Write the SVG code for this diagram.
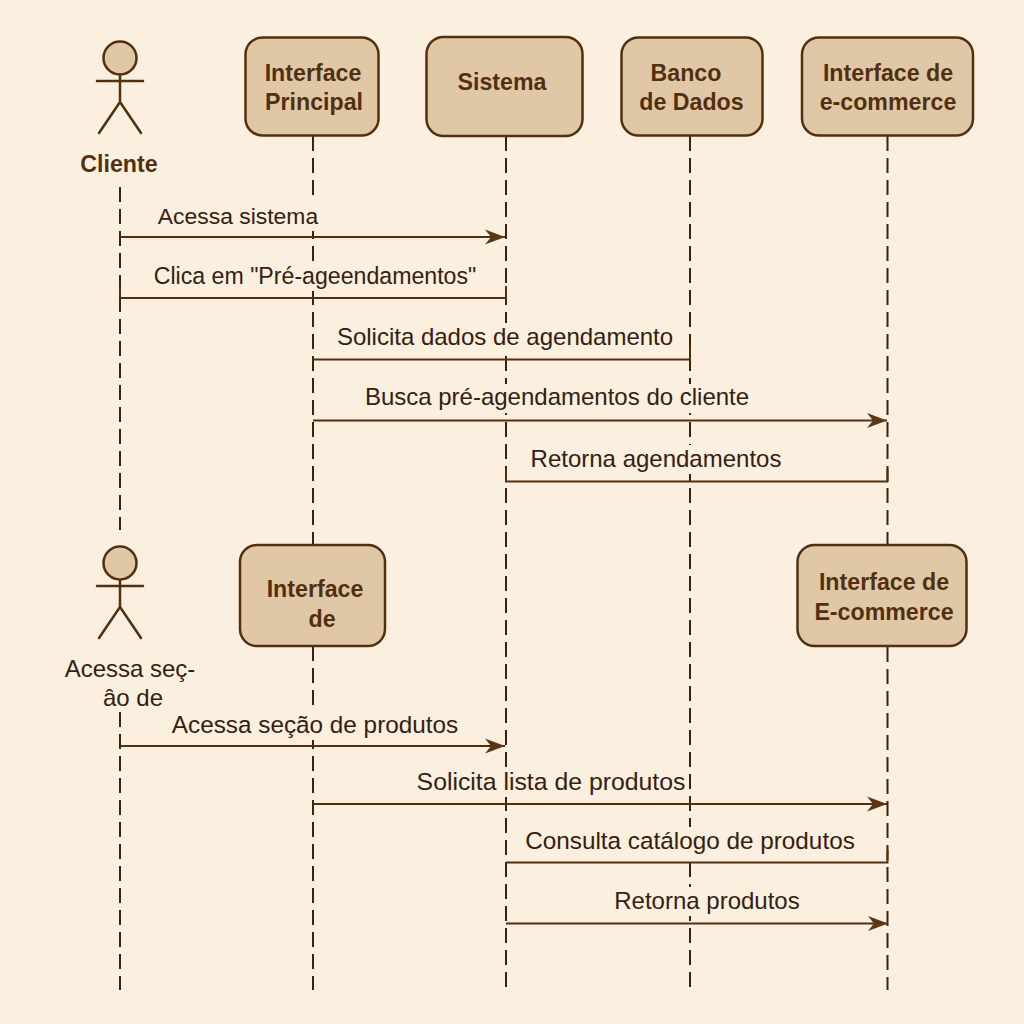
<svg xmlns="http://www.w3.org/2000/svg" width="1024" height="1024" viewBox="0 0 1024 1024">
<style>
.box{fill:#e0c8a6;stroke:#52300f;stroke-width:2.5}
.fig{fill:none;stroke:#52300f;stroke-width:2.5;stroke-linecap:round}
.head{fill:#e0c8a6;stroke:#52300f;stroke-width:2.5}
.life{fill:none;stroke:#3a2410;stroke-width:2;stroke-dasharray:15 7}
.msg{fill:none;stroke:#52300f;stroke-width:2}
.bg{fill:#fbefdf}
text{font-family:"Liberation Sans",Arial,sans-serif;text-anchor:middle}
.t{font-size:23.2px;font-weight:700;fill:#52300f}
.m{font-size:24px;fill:#35200e}
</style>
<defs>
<marker id="arrow" markerUnits="userSpaceOnUse" markerWidth="24" markerHeight="18" refX="21" refY="9" orient="auto">
<path d="M1 1.500 L21 9 L1 16.500 L7 9 Z" fill="#5a3615"/>
</marker>
</defs>
<rect width="1024" height="1024" fill="#fbefdf"/>
<g id="lifelines">
<path class="life" d="M120 187V530M120 712V990M313 136V545M313 646V990M506 136V990M690 136V990M887.500 136V545M887.500 647V990"/>
</g>
<g id="label-backgrounds">
<rect class="bg" x="156" y="202" width="164" height="29"/>
<rect class="bg" x="152" y="262" width="326" height="29"/>
<rect class="bg" x="335" y="323" width="339" height="29"/>
<rect class="bg" x="364" y="384" width="387" height="29"/>
<rect class="bg" x="529" y="445" width="254" height="29"/>
<rect class="bg" x="169" y="711" width="291" height="29"/>
<rect class="bg" x="414" y="768" width="270" height="29"/>
<rect class="bg" x="523" y="827" width="334" height="29"/>
<rect class="bg" x="613" y="887" width="188" height="29"/>
</g>
<g id="connectors">
<path class="msg" d="M120 237H505" marker-end="url(#arrow)"/>
<path class="msg" d="M120 298H506V286"/>
<path class="msg" d="M120 298V286"/>
<path class="msg" d="M313 359.500H690V347"/>
<path class="msg" d="M313 420.500H887" marker-end="url(#arrow)"/>
<path class="msg" d="M506 469V481.500H887.500V469"/>
<path class="msg" d="M120 746H505" marker-end="url(#arrow)"/>
<path class="msg" d="M313 804H887" marker-end="url(#arrow)"/>
<path class="msg" d="M506 862.500H887.500V850"/>
<path class="msg" d="M506 923.500H888" marker-end="url(#arrow)"/>
</g>
<g id="labels">
<text class="m" x="238" y="224" style="font-size:22.900px">Acessa sistema</text>
<text class="m" x="315" y="284" style="font-size:23.150px">Clica em "Pré-ageendamentos"</text>
<text class="m" x="505" y="345">Solicita dados de agendamento</text>
<text class="m" x="557" y="405">Busca pré-agendamentos do cliente</text>
<text class="m" x="656" y="467">Retorna agendamentos</text>
<text class="m" x="315" y="733" style="font-size:24.300px">Acessa seção de produtos</text>
<text class="m" x="551" y="790" style="font-size:24.800px">Solicita lista de produtos</text>
<text class="m" x="690" y="849" style="font-size:24.300px">Consulta catálogo de produtos</text>
<text class="m" x="707" y="909">Retorna produtos</text>
</g>
<g id="actor-cliente">
<circle class="head" cx="120" cy="58" r="16.500"/>
<path class="fig" d="M120 75V102M97 81H143M120 102L99 133M120 102L141 133"/>
<text class="t" x="119" y="172">Cliente</text>
</g>
<g id="node-interface-principal">
<rect class="box" x="245.500" y="37.500" width="133" height="98" rx="17"/>
<text class="t" x="313" y="81">Interface</text>
<text class="t" x="314" y="110">Principal</text>
</g>
<g id="node-sistema">
<rect class="box" x="426.500" y="37" width="156" height="99" rx="17"/>
<text class="t" x="502" y="90">Sistema</text>
</g>
<g id="node-banco">
<rect class="box" x="621.500" y="37.500" width="141" height="98" rx="17"/>
<text class="t" x="686" y="81">Banco</text>
<text class="t" x="691.500" y="110">de Dados</text>
</g>
<g id="node-ecommerce-1">
<rect class="box" x="802" y="37.500" width="171" height="98" rx="17"/>
<text class="t" x="888" y="81">Interface de</text>
<text class="t" x="888" y="110">e-commerce</text>
</g>
<g id="actor-2">
<circle class="head" cx="120" cy="563" r="16.500"/>
<path class="fig" d="M120 580V607M97 586H143M120 607L99 638M120 607L141 638"/>
<text class="m" x="130" y="677">Acessa seç-</text>
<text class="m" x="133" y="706">âo de</text>
</g>
<g id="node-interface-de">
<rect class="box" x="240" y="545" width="145" height="101" rx="17"/>
<text class="t" x="315" y="597">Interface</text>
<text class="t" x="322" y="627">de</text>
</g>
<g id="node-ecommerce-2">
<rect class="box" x="797.500" y="545" width="169" height="101" rx="17"/>
<text class="t" x="884" y="590">Interface de</text>
<text class="t" x="884" y="620">E-commerce</text>
</g>
</svg>
